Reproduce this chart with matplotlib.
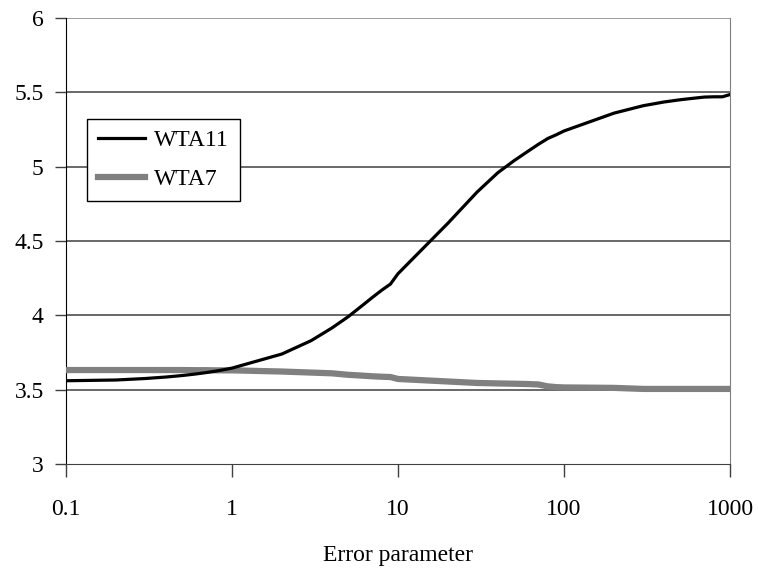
import matplotlib
matplotlib.use("Agg")
import matplotlib.pyplot as plt

# data
err = [0.1, 0.2, 0.3, 0.4, 0.5, 0.6, 0.7, 0.8, 0.9, 1,
       2, 3, 4, 5, 6, 7, 8, 9, 10,
       20, 30, 40, 50, 60, 70, 80, 90, 100,
       200, 300, 400, 500, 600, 700, 800, 900, 1000]
wta11 = [3.56, 3.565, 3.575, 3.585, 3.595, 3.605, 3.615, 3.625, 3.635, 3.645,
         3.74, 3.83, 3.915, 3.99, 4.06, 4.12, 4.17, 4.21, 4.28,
         4.62, 4.83, 4.96, 5.04, 5.10, 5.15, 5.19, 5.215, 5.24,
         5.36, 5.41, 5.435, 5.45, 5.46, 5.468, 5.47, 5.47, 5.485]
wta7 = [3.632, 3.632, 3.632, 3.632, 3.632, 3.631, 3.631, 3.630, 3.630, 3.630,
        3.622, 3.615, 3.61, 3.60, 3.595, 3.59, 3.587, 3.585, 3.572,
        3.555, 3.545, 3.542, 3.54, 3.538, 3.535, 3.522, 3.517, 3.515,
        3.512, 3.505, 3.505, 3.505, 3.505, 3.505, 3.505, 3.505, 3.505]

xticks = [0.1, 1, 10, 100, 1000]
xtick_labels = ["0.1", "1", "10", "100", "1000"]
yticks = [3, 3.5, 4, 4.5, 5, 5.5, 6]
ytick_labels = ["3", "3.5", "4", "4.5", "5", "5.5", "6"]

plt.rcParams['font.family'] = ['Liberation Serif', 'DejaVu Serif']
fs = 17

fig = plt.figure(figsize=(7.58, 5.69), dpi=100)
ax = fig.add_axes([66 / 758, 1 - 464 / 569, 664 / 758, 446 / 569])

ax.plot(err, wta11, color='black', lw=2.3, label='WTA11', zorder=4)
ax.plot(err, wta7, color='#808080', lw=4.5, label='WTA7', zorder=3)

ax.set_xscale('log')
ax.set_xlim(0.1, 1000)
ax.set_ylim(3, 6)
ax.set_xticks(xticks)
ax.set_xticklabels(xtick_labels)
ax.minorticks_off()
ax.set_yticks(yticks)
ax.set_yticklabels(ytick_labels)

# horizontal gridlines only
for y in yticks[1:]:
    ax.axhline(y, color='#404040' if y < 6 else '#808080', lw=1.1, zorder=1)

ax.spines['top'].set_visible(False)
ax.spines['right'].set_color('#808080')
ax.spines['left'].set_color('black')
ax.spines['bottom'].set_color('#404040')
ax.tick_params(axis='y', direction='out', length=8, width=1, pad=8,
               labelsize=fs, color='#404040')
ax.tick_params(axis='x', direction='out', length=9, width=1, pad=16,
               labelsize=fs, color='#404040')

ax.set_xlabel('Error parameter', fontsize=fs, labelpad=18)

leg = ax.legend(loc='upper left', bbox_to_anchor=(0.0316, 0.7735),
                borderaxespad=0, fontsize=fs, frameon=True, fancybox=False,
                edgecolor='black', framealpha=1, handlelength=2.0,
                handletextpad=0.4, borderpad=0.45, labelspacing=0.75)
leg.get_frame().set_linewidth(1)

fig.savefig('out.png', dpi=100)
